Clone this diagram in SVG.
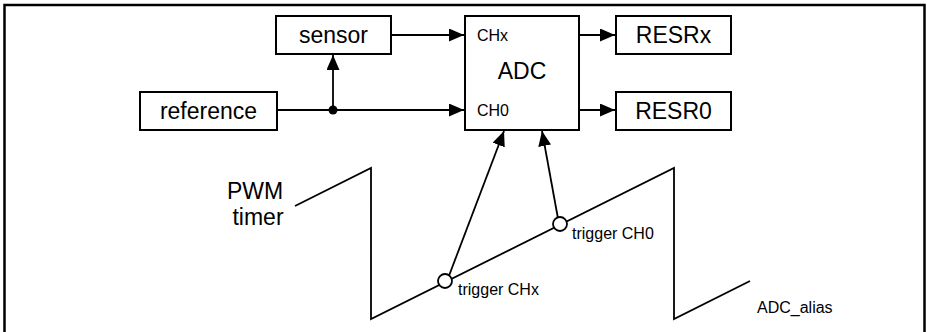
<svg xmlns="http://www.w3.org/2000/svg" width="927" height="332" viewBox="0 0 927 332">
<defs>
<style>
.box{fill:#fff;stroke:#000;stroke-width:2}
.ln{fill:none;stroke:#000;stroke-width:1.8}
.big{font-family:"Liberation Sans",Arial,sans-serif;font-size:23px;fill:#000}
.sm{font-family:"Liberation Sans",Arial,sans-serif;font-size:16px;fill:#000}
.mid{text-anchor:middle}
</style>
<marker id="ah" markerUnits="userSpaceOnUse" markerWidth="16" markerHeight="13" refX="15" refY="6.5" orient="auto">
<path d="M0,0 L15,6.5 L0,13 z" fill="#000"/>
</marker>
</defs>
<rect x="0" y="0" width="927" height="332" fill="#fff"/>
<rect x="4.5" y="5" width="920" height="340" fill="none" stroke="#000" stroke-width="2.5"/>

<g id="connectors">
<line class="ln" x1="277" y1="110" x2="464" y2="110" marker-end="url(#ah)"/>
<line class="ln" x1="333" y1="110" x2="333" y2="55" marker-end="url(#ah)"/>
<circle cx="333" cy="110" r="4.5" fill="#000"/>
<line class="ln" x1="391" y1="35" x2="464" y2="35" marker-end="url(#ah)"/>
<line class="ln" x1="579" y1="35" x2="615" y2="35" marker-end="url(#ah)"/>
<line class="ln" x1="579" y1="110" x2="615" y2="110" marker-end="url(#ah)"/>
<line class="ln" x1="447" y1="281" x2="504" y2="131" marker-end="url(#ah)"/>
<line class="ln" x1="559" y1="224" x2="542" y2="131" marker-end="url(#ah)"/>
</g>

<g id="sensor">
<rect class="box" x="276" y="16" width="115" height="38"/>
<text class="big mid" x="333.5" y="43">sensor</text>
</g>
<g id="reference">
<rect class="box" x="140" y="92" width="137" height="38"/>
<text class="big mid" x="208.5" y="119">reference</text>
</g>
<g id="adc">
<rect class="box" x="465" y="16" width="114" height="114"/>
<text class="sm" x="477" y="41">CHx</text>
<text class="big mid" x="522" y="79">ADC</text>
<text class="sm" x="477" y="116">CH0</text>
</g>
<g id="resrx">
<rect class="box" x="616" y="16" width="115" height="38"/>
<text class="big mid" x="673.5" y="43">RESRx</text>
</g>
<g id="resr0">
<rect class="box" x="616" y="92" width="115" height="38"/>
<text class="big mid" x="673.5" y="119">RESR0</text>
</g>

<g id="pwm">
<polyline class="ln" points="295,206 371,168 371,319 674,168 674,319 750,281"/>
<text class="big mid" x="255" y="199">PWM</text>
<text class="big mid" x="258" y="225">timer</text>
</g>
<g id="trigger-chx">
<circle cx="445" cy="281" r="7" fill="#fff" stroke="#000" stroke-width="1.8"/>
<text class="sm" x="458" y="295">trigger CHx</text>
</g>
<g id="trigger-ch0">
<circle cx="560" cy="224" r="7" fill="#fff" stroke="#000" stroke-width="1.8"/>
<text class="sm" x="572" y="239">trigger CH0</text>
</g>
<g id="alias">
<text class="sm" x="757" y="313">ADC_alias</text>
</g>
</svg>
